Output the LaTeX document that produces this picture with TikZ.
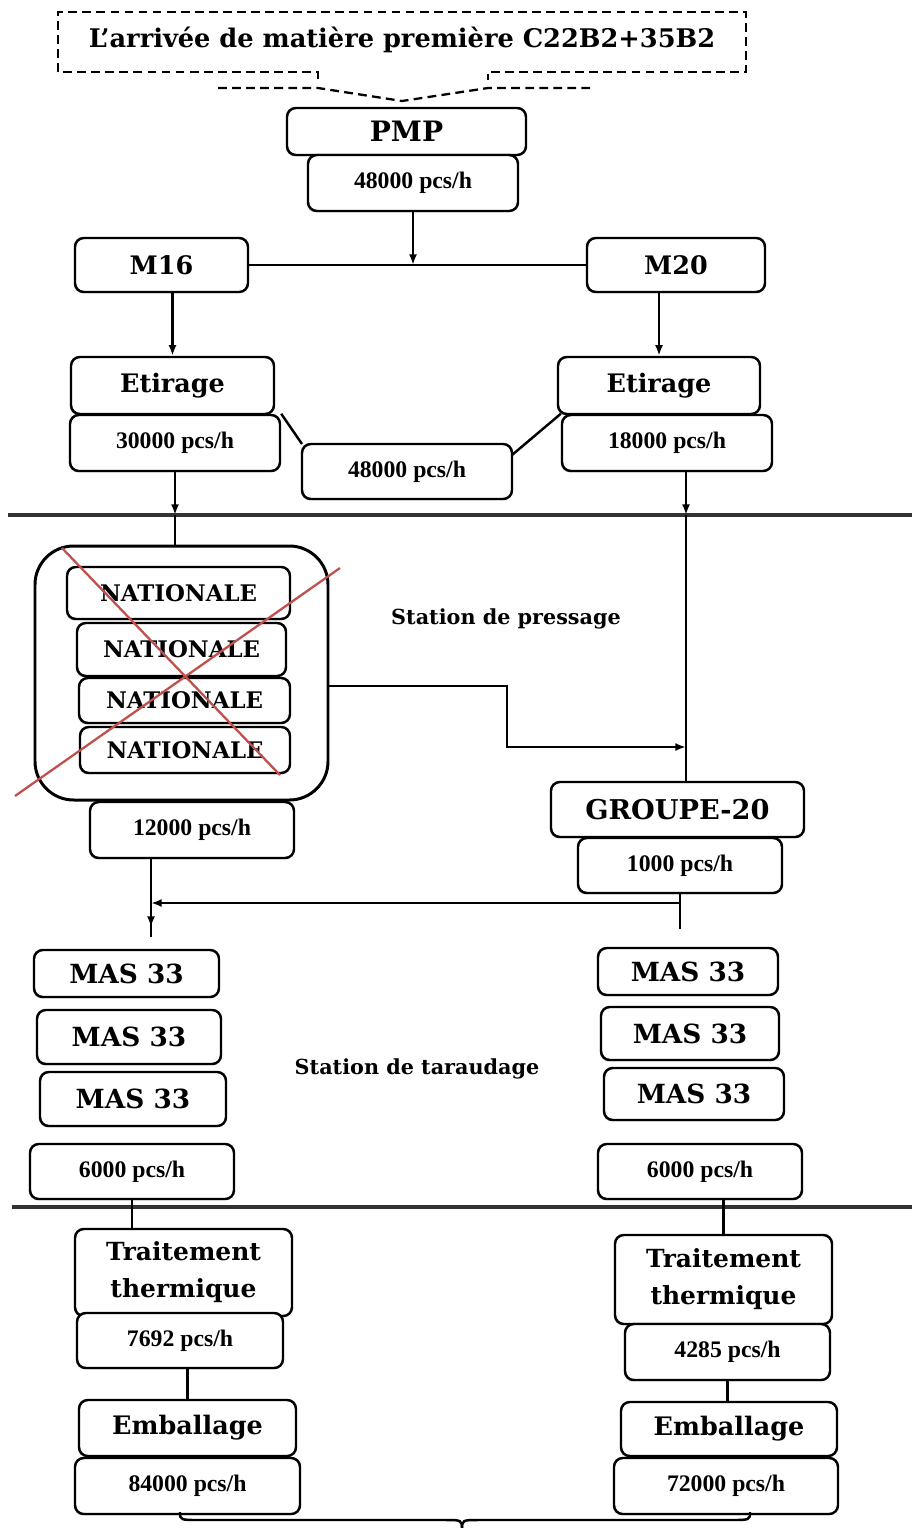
\documentclass[tikz,border=0pt]{standalone}
\usepackage{fontspec}
\setmainfont{Liberation Serif}
\newfontfamily\wideserif{DejaVu Serif}
\usetikzlibrary{arrows.meta, shadows}
\definecolor{cross}{HTML}{C0504D}
\definecolor{sepline}{HTML}{333333}

\tikzset{
  px/.style={x=0.02cm, y=-0.02cm},
  wh/.style 2 args={minimum width=#1*0.02cm, minimum height=#2*0.02cm},
  box/.style={draw, line width=1.4pt, rounded corners=5pt, fill=white, inner sep=1pt, align=center,
    drop shadow={shadow xshift=-0.6pt, shadow yshift=-0.8pt, opacity=0.35}},
  rate/.style={box, font=\bfseries\fontsize{13.5}{16}\selectfont},
  stage/.style={box, font=\wideserif\bfseries\fontsize{#1}{21}\selectfont},
  stage/.default=14.5,
  station/.style={font=\wideserif\bfseries\fontsize{11.8}{14}\selectfont},
  link/.style={line width=1.4pt},
  arr/.style={link, -{Latex[length=6pt, width=4.5pt]}},
  sep/.style={line width=2pt, draw=sepline},
  inflow/.style={line width=1.3pt, dash pattern=on 5pt off 3pt},
}

\begin{document}
\begin{tikzpicture}[px]
  \useasboundingbox (0,0) rectangle (912,1528);

  % Raw material arrival
  \node[font=\wideserif\bfseries\fontsize{14.6}{17}\selectfont] (arrival) at (402,40) {L’arrivée de matière première C22B2+35B2};
  \draw[inflow] (318,79) -- (318,72) -- (58,72) -- (58,12) -- (746,12) -- (746,72) -- (488,72) -- (488,80);
  \draw[inflow] (218,88) -- (318,88) -- (402,101) -- (488,88) -- (590,88);

  % PMP and split M16 / M20
  \node[stage=16, wh={239}{47}] (pmp) at (406.5,131.5) {PMP};
  \node[rate, wh={210}{56}] (r48a) at (413,183) {48000 pcs/h};
  \node[stage, wh={173}{54}] (m16) at (161.5,265) {M16};
  \node[stage, wh={178}{54}] (m20) at (676,265) {M20};
  \draw[link] (m16) -- (m20);
  \draw[arr] (r48a) -- (r48a |- m16);

  % Drawing
  \node[stage, wh={203}{57}] (etl) at (172.5,385.5) {Etirage};
  \node[rate, wh={210}{56}] (r30) at (175,443) {30000 pcs/h};
  \node[stage, wh={202}{57}] (etr) at (659,385.5) {Etirage};
  \node[rate, wh={210}{56}] (r18) at (667,443) {18000 pcs/h};
  \draw[arr] (m16.south -| etl.north) -- (etl.north);
  \draw[arr] (m20.south -| etr.north) -- (etr.north);
  \draw[link] (r30.north east) -- (302,444);
  \draw[link] (512,455) -- (r18.north west);
  \node[rate, wh={210}{55}] (r48b) at (407,471.5) {48000 pcs/h};

  % Separator 1
  \draw[sep] (8,515) -- (912,515);
  \coordinate (lsep) at (175,515);
  \coordinate (rsep) at (686,515);
  \draw[arr] (r30.south) -- (lsep);

  % Pressing station
  \node[draw, line width=1.7pt, rounded corners=22pt, wh={293}{254}] (press) at (181.5,673) {};
  \draw[link] (lsep) -- (press.north -| lsep);
  \foreach \i/\cx/\cy/\w/\h in {1/178.5/593/223/52, 2/181.5/649.5/209/53, 3/184.5/700.5/211/45, 4/185/750/210/46} {
    \node[stage=13, wh={\w}{\h}] (nat\i) at (\cx,\cy) {NATIONALE};
  }
  \draw[cross, line width=1.3pt] (62,548) -- (280,775);
  \draw[cross, line width=1.3pt] (340,568) -- (15,796);
  \node[station] (stpress) at (506,619) {Station de pressage};
  \node[rate, wh={204}{56}] (r12) at (192,830) {12000 pcs/h};
  \node[stage=15.5, wh={253}{55}] (g20) at (677.5,809.5) {GROUPE-20};
  \node[rate, wh={204}{55}] (r1) at (680,865.5) {1000 pcs/h};
  \draw[arr] (r18.south -| rsep) -- (rsep);
  \draw[link] (rsep) -- (g20.north -| rsep);
  \coordinate (bend) at (507,686);
  \coordinate (pressin) at (686,747);
  \draw[arr] (press.east |- bend) -- (bend) |- (pressin);

  % Merge towards tapping
  \coordinate (lmerge) at (151,903);
  \coordinate (rmerge) at (680,903);
  \draw[link] (r12.south -| lmerge) -- (lmerge) -- ++(0,34);
  \draw[arr] (lmerge) -- ++(0,24);
  \draw[arr] (rmerge) -- (lmerge);
  \draw[link] (r1.south -| rmerge) -- ++(0,35);

  % Tapping station
  \foreach \i/\cx/\cy/\w/\h in {1/126.5/973.5/185/47, 2/129/1037/184/54, 3/133/1099/186/54} {
    \node[stage=15, wh={\w}{\h}] (masl\i) at (\cx,\cy) {MAS 33};
  }
  \foreach \i/\cx/\cy/\w/\h in {1/688/971.5/180/47, 2/690/1033.5/178/53, 3/694/1094/180/52} {
    \node[stage=15, wh={\w}{\h}] (masr\i) at (\cx,\cy) {MAS 33};
  }
  \node[station] (sttap) at (417,1069) {Station de taraudage};
  \node[rate, wh={204}{55}] (r6l) at (132,1171.5) {6000 pcs/h};
  \node[rate, wh={204}{55}] (r6r) at (700,1171.5) {6000 pcs/h};

  % Separator 2
  \draw[sep] (12,1207) -- (912,1207);

  % Heat treatment and packing
  \node[stage=14.2, wh={217}{87}] (ttl) at (183.5,1272.5) {Traitement\\thermique};
  \node[rate, wh={206}{55}] (r7692) at (180,1340.5) {7692 pcs/h};
  \node[stage=14.2, wh={217}{89}] (ttr) at (723.5,1279.5) {Traitement\\thermique};
  \node[rate, wh={205}{56}] (r4285) at (727.5,1352) {4285 pcs/h};
  \draw[link] (r6l.south) -- (r6l.south |- ttl.north);
  \draw[link] (r6r.south -| ttr.north) -- (ttr.north);

  \node[stage, wh={217}{56}] (embl) at (187.5,1428) {Emballage};
  \node[rate, wh={225}{56}] (r84) at (187.5,1486) {84000 pcs/h};
  \node[stage, wh={216}{54}] (embr) at (729,1429) {Emballage};
  \node[rate, wh={224}{56}] (r72) at (726,1486) {72000 pcs/h};
  \draw[link] (r7692.south -| embl.north) -- (embl.north);
  \draw[link] (r4285.south) -- (r4285.south |- embr.north);

  % Closing brace
  \draw[link] (180,1512) .. controls (180,1520) .. (200,1520) -- (445,1520) .. controls (462,1520) .. (462,1530);
  \draw[link] (750,1512) .. controls (750,1520) .. (730,1520) -- (479,1520) .. controls (462,1520) .. (462,1530);
\end{tikzpicture}
\end{document}
